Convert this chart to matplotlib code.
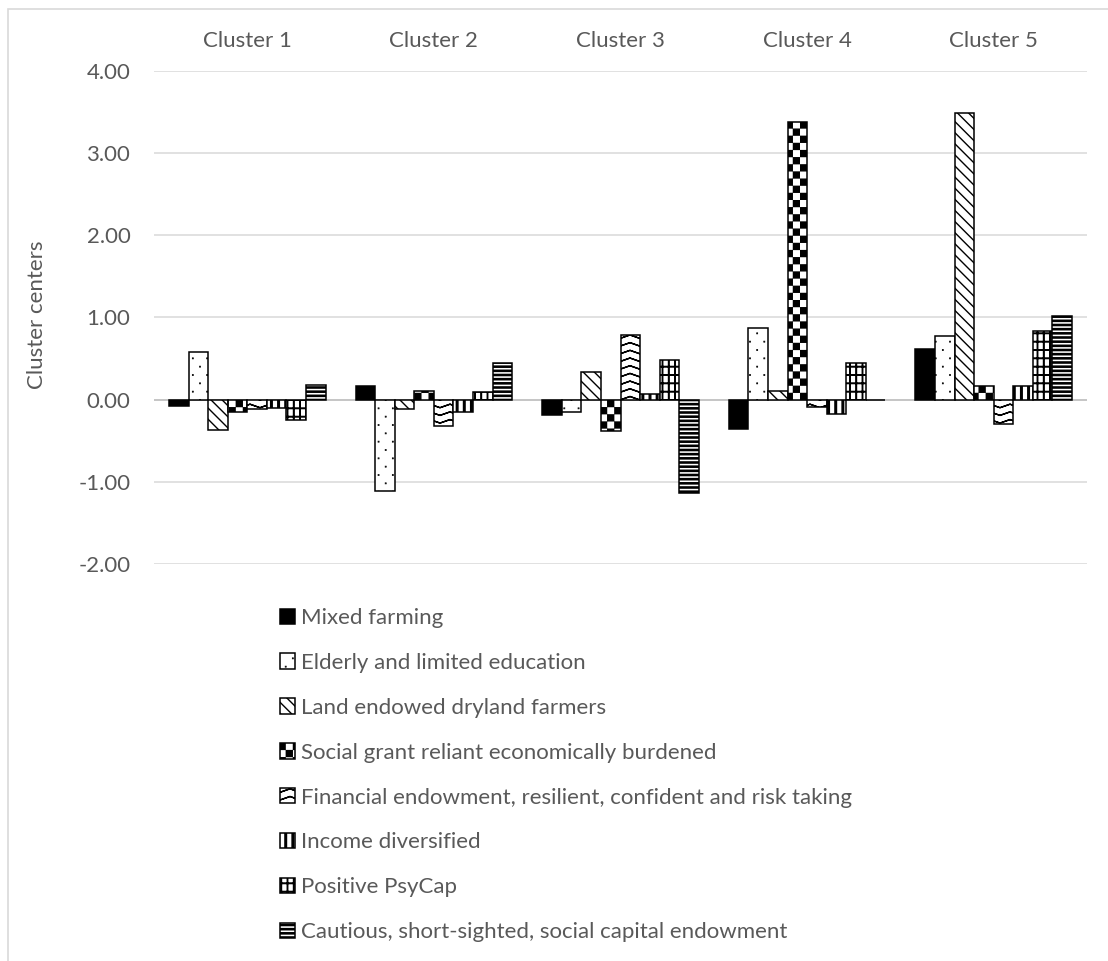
import warnings
import numpy as np
import matplotlib
matplotlib.use("Agg")
import matplotlib.pyplot as plt
import matplotlib.hatch as mhatch
from matplotlib.path import Path

# custom hatch letters below are not in matplotlib's list, it only warns
warnings.filterwarnings("ignore", message="hatch must consist")

clusters = ["Cluster 1", "Cluster 2", "Cluster 3", "Cluster 4", "Cluster 5"]

mixed_farming = [-0.08, 0.17, -0.19, -0.36, 0.61]
elderly_limited_education = [0.58, -1.11, -0.15, 0.87, 0.77]
land_endowed_dryland = [-0.37, -0.12, 0.34, 0.10, 3.48]
social_grant_reliant = [-0.15, 0.10, -0.38, 3.38, 0.17]
financial_endowment = [-0.12, -0.32, 0.79, -0.09, -0.30]
income_diversified = [-0.10, -0.15, 0.07, -0.17, 0.17]
positive_psycap = [-0.25, 0.09, 0.48, 0.44, 0.84]
cautious_short_sighted = [0.18, 0.44, -1.14, -0.01, 1.02]

segment_names = [
    "Mixed farming",
    "Elderly and limited education",
    "Land endowed dryland farmers",
    "Social grant reliant economically burdened",
    "Financial endowment, resilient, confident and risk taking",
    "Income diversified",
    "Positive PsyCap",
    "Cautious, short-sighted, social capital endowment",
]
segment_values = [mixed_farming, elderly_limited_education, land_endowed_dryland,
                  social_grant_reliant, financial_endowment, income_diversified,
                  positive_psycap, cautious_short_sighted]


class ExcelHatch(mhatch.HatchPatternBase):
    """Extra fills like Excel's pattern fills: k checker, d sparse dots,
    z chevrons, v thick vertical, g grid, h thick horizontal."""

    def __init__(self, hatch, density):
        self.rects = []
        self.lines = []
        if 'k' in hatch:
            n, e = 14, 0.006
            c = 1.0 / n
            for i in range(n):
                for j in range(n):
                    if (i + j) % 2 == 0:
                        self.rects.append((i * c + e, j * c + e, (i + 1) * c - e, (j + 1) * c - e))
        if 'd' in hatch:
            s = 0.002
            for j in range(13):
                y = j / 12
                shift = 0.0 if j % 2 == 0 else 1 / 14
                for i in range(8):
                    x = i / 7 + shift
                    self.rects.append((x - s, y - s, x + s, y + s))
        if 'v' in hatch:
            hw = 0.008
            for i in range(15):
                x = i / 14
                self.rects.append((x - hw, 0, x + hw, 1))
        if 'h' in hatch:
            hw = 0.006
            for j in range(25):
                y = j / 24
                self.rects.append((0, y - hw, 1, y + hw))
        if 'g' in hatch:
            hw = 0.0025
            for i in range(17):
                x = i / 16
                self.rects.append((x - hw, 0, x + hw, 1))
            for j in range(13):
                y = j / 12
                self.rects.append((0, y - hw, 1, y + hw))
        if 'z' in hatch:
            xs = np.linspace(0, 1, 11)
            for j in range(14):
                y0 = j / 13
                ys = y0 + np.where(np.arange(11) % 2 == 1, 0.035, 0.0)
                fwd = np.column_stack([xs, ys])
                self.lines.append(np.concatenate([fwd, fwd[::-1]]))
        self.num_vertices = 5 * len(self.rects) + sum(len(l) for l in self.lines)

    def set_vertices_and_codes(self, vertices, codes):
        k = 0
        for x0, y0, x1, y1 in self.rects:
            vertices[k:k + 5] = [(x0, y0), (x1, y0), (x1, y1), (x0, y1), (x0, y0)]
            codes[k:k + 5] = [Path.MOVETO, Path.LINETO, Path.LINETO, Path.LINETO, Path.CLOSEPOLY]
            k += 5
        for line in self.lines:
            m = len(line)
            vertices[k:k + m] = line
            codes[k] = Path.MOVETO
            codes[k + 1:k + m] = Path.LINETO
            k += m


mhatch._hatch_types.append(ExcelHatch)

hatches = ['', 'd', '\\\\\\', 'k', 'z', 'v', 'g', 'h']
face_colors = ['black'] + ['white'] * 7

plt.rcParams['font.family'] = ['Lato', 'DejaVu Sans']
plt.rcParams['hatch.linewidth'] = 1.0
text_color = '#595959'
font_size = 16

W, H = 1108, 961
fig = plt.figure(figsize=(W / 100, H / 100), dpi=100)
ax = fig.add_axes([154 / W, 1 - 564 / H, (1087 - 154) / W, (564 - 70.7) / H])

x = np.arange(len(clusters))
bar_w = 0.105
for i, (name, vals) in enumerate(zip(segment_names, segment_values)):
    ax.bar(x + (i - 3.5) * bar_w, vals, bar_w, color=face_colors[i], edgecolor='black',
           hatch=hatches[i], linewidth=1.1, label=name, zorder=3)

ax.axhline(0, color='#bfbfbf', linewidth=1.1, zorder=2)
ax.set_xlim(-0.5, len(clusters) - 0.5)
ax.set_ylim(-2, 4)
ax.set_yticks(np.arange(-2, 4.01, 1))
ax.set_yticklabels([f"{v:.2f}" for v in np.arange(-2, 4.01, 1)])
ax.yaxis.grid(True, color='#d9d9d9', linewidth=1.1, zorder=0)
ax.set_axisbelow(True)

ax.xaxis.tick_top()
ax.set_xticks(x)
ax.set_xticklabels(clusters)
ax.tick_params(axis='both', length=0, labelsize=font_size, colors=text_color)
ax.tick_params(axis='x', pad=14)
ax.tick_params(axis='y', pad=17)
for s in ax.spines.values():
    s.set_visible(False)

fig.text(37 / W, 1 - 315 / H, "Cluster centers", rotation=90, ha='center', va='center',
         fontsize=font_size, color=text_color)

fig.legend(loc='upper left', bbox_to_anchor=(280 / W, 1 - 608 / H), ncol=1, frameon=False,
           fontsize=font_size, labelcolor=text_color, handlelength=0.68, handleheight=0.68,
           handletextpad=0.25, labelspacing=1.12, borderpad=0, borderaxespad=0)

# light chart-area frame, cut off at right and bottom like the source
fig.add_artist(plt.Rectangle((8 / W, -0.1), 1.2, 1 - 9 / H + 0.1, transform=fig.transFigure,
                             fill=False, edgecolor='#d9d9d9', linewidth=1.2))

fig.savefig("out.png", dpi=100)
